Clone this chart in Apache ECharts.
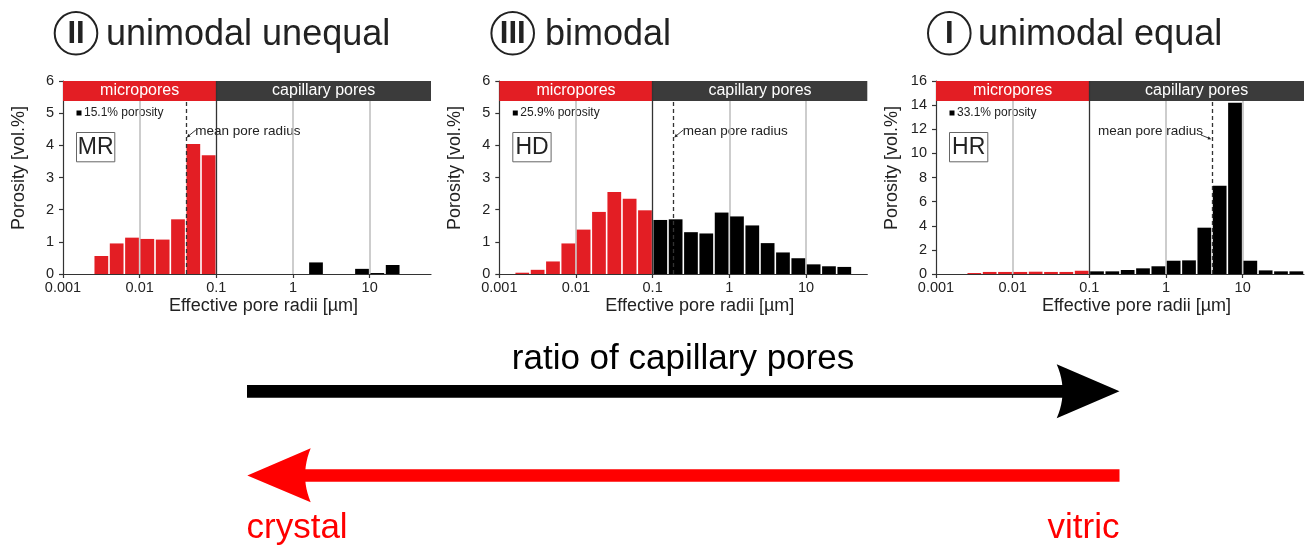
<!DOCTYPE html>
<html><head><meta charset="utf-8">
<script src="https://cdn.jsdelivr.net/npm/echarts@6/dist/echarts.min.js"></script>
<style>html,body{margin:0;padding:0;background:#fff}#c{width:1307px;height:547px}</style>
</head><body><div id="c"></div>
<script>
// ---------- data ----------
const binLowerLog10 = [-3.0,-2.8,-2.6,-2.4,-2.2,-2.0,-1.8,-1.6,-1.4,-1.2,-1.0,-0.8,-0.6,-0.4,-0.2,0.0,0.2,0.4,0.6,0.8,1.0,1.2,1.4,1.6];
const binWidthLog10 = 0.2;
const mrValues = [0,0,0.56,0.95,1.13,1.09,1.07,1.70,4.04,3.69,0,0,0,0,0,0,0.36,0,0,0.16,0.03,0.28,0,0];
const hdValues = [0,0.04,0.13,0.39,0.95,1.38,1.93,2.55,2.34,1.98,1.68,1.70,1.30,1.26,1.91,1.79,1.51,0.96,0.67,0.49,0.30,0.24,0.22,0];
const hrValues = [0,0,0.08,0.17,0.17,0.17,0.19,0.17,0.17,0.27,0.22,0.22,0.33,0.47,0.64,1.10,1.13,3.84,7.32,14.2,1.10,0.30,0.22,0.22];
const tickValuesLog10 = [-3,-2,-1,0,1];
const tickLabels = ['0.001','0.01','0.1','1','10'];
const lightGridLog10 = [-2,0,1];
const microBoundaryLog10 = -1;
const sampleNames = ['MR','HD','HR'];
const porosityLabels = ['15.1% porosity','25.9% porosity','33.1% porosity'];
const meanPoreRadiusUm = [0.04,0.186,3.98];
const titles = ['unimodal unequal','bimodal','unimodal equal'];
const numerals = ['II','III','I'];
const yMaxes = [6,6,16];
const yIntervals = [1,1,2];
const bandLabels = ['micropores','capillary pores'];
const panelValues = [mrValues, hdValues, hrValues];

// ---------- layout / style ----------
const FONT = '"Liberation Sans", Arial, Helvetica, sans-serif';
const RED = '#e31e24';
const BAND_DARK = '#3b3b3b';
const AX = '#333';
const TXT = '#222';
const gridLefts = [63, 499.3, 936];
const gridTop = 81, gridH = 193, gridW = 368;
const bandPx = 20;

const chart = echarts.init(document.getElementById('c'), null, {renderer:'canvas'});

const grids = [], xAxes = [], yAxes = [], series = [];
for (let i = 0; i < 3; i++) {
  grids.push({left: gridLefts[i], top: gridTop, width: gridW, height: gridH, containLabel: false});
  xAxes.push({
    type: 'value', gridIndex: i, min: -3, max: 1.8, interval: 1,
    axisLine: {show: true, onZero: false, lineStyle: {color: AX, width: 1.2}},
    axisTick: {show: true, length: 4, inside: false, customValues: tickValuesLog10, lineStyle: {color: AX, width: 1.2}},
    axisLabel: {customValues: tickValuesLog10, margin: 6, fontSize: 14.5, fontFamily: FONT, color: TXT,
      formatter: v => { const k = tickValuesLog10.indexOf(Math.round(v)); return k >= 0 ? tickLabels[k] : ''; }},
    splitLine: {show: false},
    name: 'Effective pore radii [\u00b5m]', nameLocation: 'middle', nameGap: 23,
    nameTextStyle: {fontSize: 18, fontFamily: FONT, color: TXT, padding: [0,0,0,33]}
  });
  yAxes.push({
    type: 'value', gridIndex: i, min: 0, max: yMaxes[i], interval: yIntervals[i],
    axisLine: {show: true, onZero: false, lineStyle: {color: AX, width: 1.2}},
    axisTick: {show: true, length: 4, lineStyle: {color: AX, width: 1.2}},
    axisLabel: {margin: 9, fontSize: 14.5, fontFamily: FONT, color: TXT},
    splitLine: {show: false},
    name: 'Porosity [vol.%]', nameLocation: 'middle', nameGap: 35,
    nameTextStyle: {fontSize: 18, fontFamily: FONT, color: TXT, padding: [0,0,0,19]}
  });
  const yMax = yMaxes[i];
  const bandBottom = yMax * (1 - bandPx / gridH);
  const meanLog = Math.log10(meanPoreRadiusUm[i]);
  // light grid lines (below bars)
  series.push({
    type: 'line', xAxisIndex: i, yAxisIndex: i, data: [], silent: true, z: 1,
    markLine: {silent: true, symbol: ['none','none'], z: 1, label: {show: false},
      lineStyle: {color: '#bdbdbd', width: 1.5, type: 'solid'}, emphasis: {disabled: true},
      data: lightGridLog10.map(g => ({xAxis: g}))}
  });
  // histogram bars
  series.push({
    type: 'custom', xAxisIndex: i, yAxisIndex: i, z: 2, silent: true,
    encode: {x: 0, y: 1},
    data: binLowerLog10.map((b, k) => [b, panelValues[i][k]]),
    renderItem: function (params, api) {
      const lo = api.value(0), v = api.value(1);
      if (!(v > 0)) return null;
      const p0 = api.coord([lo, 0]);
      const p1 = api.coord([lo + binWidthLog10, v]);
      const gap = 0.8;
      return {type: 'rect',
        shape: {x: p0[0] + gap, y: p1[1], width: p1[0] - p0[0] - 2 * gap, height: p0[1] - p1[1]},
        style: {fill: lo < microBoundaryLog10 - 1e-9 ? RED : '#000'}};
    }
  });
  // band + boundary + mean pore radius
  series.push({
    type: 'line', xAxisIndex: i, yAxisIndex: i, data: [], silent: true, z: 3,
    markArea: {silent: true, z: 3, emphasis: {disabled: true},
      label: {show: true, position: 'inside', color: '#fff', fontSize: 16, fontFamily: FONT},
      data: [
        [{name: bandLabels[0], xAxis: -3, yAxis: bandBottom, itemStyle: {color: RED, opacity: 1}}, {xAxis: microBoundaryLog10, yAxis: yMax}],
        [{name: bandLabels[1], xAxis: microBoundaryLog10, yAxis: bandBottom, itemStyle: {color: BAND_DARK, opacity: 1}}, {xAxis: 1.8, yAxis: yMax}]
      ]},
    markLine: {silent: true, symbol: ['none','none'], z: 4, label: {show: false}, emphasis: {disabled: true},
      data: [
        [{coord: [microBoundaryLog10, 0], lineStyle: {color: AX, width: 1.3, type: 'solid'}}, {coord: [microBoundaryLog10, yMax]}],
        [{coord: [meanLog, 0], lineStyle: {color: '#333', width: 1.3, type: [4, 3]}}, {coord: [meanLog, bandBottom]}]
      ]}
  });
}

chart.setOption({
  animation: false,
  backgroundColor: '#fff',
  grid: grids, xAxis: xAxes, yAxis: yAxes, series: series
});

// ---------- annotations (graphic) ----------
const g = [];
const titleCx = [76, 512.7, 949.3];
const titleX = [106, 545, 978];
for (let i = 0; i < 3; i++) {
  g.push({type: 'circle', shape: {cx: titleCx[i], cy: 33.3, r: 21.3}, style: {fill: 'none', stroke: TXT, lineWidth: 2}});
  g.push({type: 'text', style: {text: numerals[i], x: titleCx[i], y: 34, font: 'bold 31px ' + FONT, fill: TXT, textAlign: 'center', textVerticalAlign: 'middle'}});
  g.push({type: 'text', style: {text: titles[i], x: titleX[i], y: 35, font: '36px ' + FONT, fill: TXT, textAlign: 'left', textVerticalAlign: 'middle'}});
  const L = gridLefts[i];
  g.push({type: 'rect', shape: {x: L + 13.5, y: 110.5, width: 5, height: 5}, style: {fill: '#000'}});
  g.push({type: 'text', style: {text: porosityLabels[i], x: L + 21, y: 113, font: '12px ' + FONT, fill: TXT, textAlign: 'left', textVerticalAlign: 'middle'}});
  g.push({type: 'rect', shape: {x: L + 13.5, y: 132.5, width: 38.3, height: 29.3}, style: {fill: '#fff', stroke: '#666', lineWidth: 1}});
  g.push({type: 'text', style: {text: sampleNames[i], x: L + 13.5 + 19.2, y: 148, font: '23px ' + FONT, fill: TXT, textAlign: 'center', textVerticalAlign: 'middle'}});
  const mx = chart.convertToPixel({gridIndex: i}, [Math.log10(meanPoreRadiusUm[i]), 0])[0];
  const leftSide = i === 2;
  if (!leftSide) {
    g.push({type: 'text', style: {text: 'mean pore radius', x: mx + 9.5, y: 131.5, font: '13.5px ' + FONT, fill: TXT, textAlign: 'left', textVerticalAlign: 'middle'}});
    g.push({type: 'line', shape: {x1: mx + 10, y1: 130, x2: mx + 2, y2: 136.5}, style: {stroke: TXT, lineWidth: 0.9}});
    g.push({type: 'polygon', shape: {points: [[mx + 1, 137.5], [mx + 2.5, 133.8], [mx + 4.6, 136.4]]}, style: {fill: TXT}});
  } else {
    g.push({type: 'text', style: {text: 'mean pore radius', x: mx - 9, y: 131.5, font: '13.5px ' + FONT, fill: TXT, textAlign: 'right', textVerticalAlign: 'middle'}});
    g.push({type: 'line', shape: {x1: mx - 11, y1: 135, x2: mx - 2, y2: 138.6}, style: {stroke: TXT, lineWidth: 0.9}});
    g.push({type: 'polygon', shape: {points: [[mx - 0.8, 139.2], [mx - 3.4, 136.2], [mx - 4.4, 139.6]]}, style: {fill: TXT}});
  }
}

function arrowHead(tip, backTop, backBottom, ctrl) {
  const pts = [tip, backTop];
  for (let s = 1; s < 12; s++) {
    const t = s / 12;
    const x = (1 - t) * (1 - t) * backTop[0] + 2 * (1 - t) * t * ctrl[0] + t * t * backBottom[0];
    const y = (1 - t) * (1 - t) * backTop[1] + 2 * (1 - t) * t * ctrl[1] + t * t * backBottom[1];
    pts.push([x, y]);
  }
  pts.push(backBottom);
  return pts;
}
// black arrow
g.push({type: 'rect', shape: {x: 247, y: 385, width: 820, height: 12.7}, style: {fill: '#000'}});
g.push({type: 'polygon', shape: {points: arrowHead([1119.5, 391.3], [1056.7, 364.3], [1056.7, 418.3], [1068.5, 391.3])}, style: {fill: '#000'}});
g.push({type: 'text', style: {text: 'ratio of capillary pores', x: 683, y: 359, font: '35px ' + FONT, fill: '#000', textAlign: 'center', textVerticalAlign: 'middle'}});
// red arrow
g.push({type: 'rect', shape: {x: 300, y: 469.3, width: 819.5, height: 12.4}, style: {fill: '#ff0000'}});
g.push({type: 'polygon', shape: {points: arrowHead([247.3, 475.5], [310.7, 448.3], [310.7, 502.3], [299.5, 475.5])}, style: {fill: '#ff0000'}});
g.push({type: 'text', style: {text: 'crystal', x: 246.5, y: 528, font: '35px ' + FONT, fill: '#ff0000', textAlign: 'left', textVerticalAlign: 'middle'}});
g.push({type: 'text', style: {text: 'vitric', x: 1119.5, y: 528, font: '35px ' + FONT, fill: '#ff0000', textAlign: 'right', textVerticalAlign: 'middle'}});

chart.setOption({graphic: {elements: g.map(e => Object.assign({silent: true}, e))}});
</script></body></html>
